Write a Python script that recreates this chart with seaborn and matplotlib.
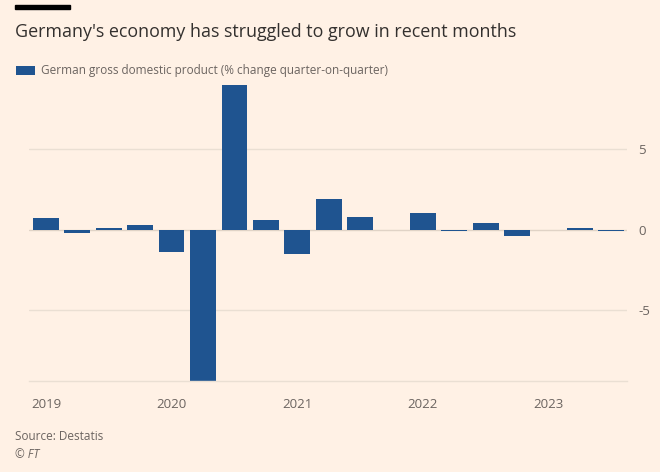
import matplotlib
matplotlib.use("Agg")
import matplotlib.pyplot as plt
from matplotlib.patches import Rectangle
import numpy as np
import pandas as pd
import seaborn as sns

# Quarterly German GDP, % change q-on-q
quarters = ["2019Q1", "2019Q2", "2019Q3", "2019Q4",
            "2020Q1", "2020Q2", "2020Q3", "2020Q4",
            "2021Q1", "2021Q2", "2021Q3", "2021Q4",
            "2022Q1", "2022Q2", "2022Q3", "2022Q4",
            "2023Q1", "2023Q2", "2023Q3"]
gdp_change = [0.7, -0.2, 0.1, 0.3,
              -1.4, -9.7, 9.0, 0.6,
              -1.5, 1.9, 0.8, 0.0,
              1.0, -0.1, 0.4, -0.4,
              0.0, 0.1, -0.1]
year_labels = ["2019", "2020", "2021", "2022", "2023"]
y_ticks = [-5, 0, 5]

bg = "#FFF1E5"
bar_color = "#1f5490"
grid_color = "#eadfd3"
text_grey = "#6b6460"

sns.set_theme(style="white")
plt.rcParams["font.family"] = ["Open Sans", "DejaVu Sans"]
plt.rcParams["axes.unicode_minus"] = False

df = pd.DataFrame({"quarter": quarters, "gdp": gdp_change})

fig = plt.figure(figsize=(6.6, 4.72), dpi=100, facecolor=bg)
W, H = 660, 472
ax = fig.add_axes([29 / W, 1 - 381 / H, (627 - 29) / W, (381 - 84) / H])
ax.set_facecolor(bg)

sns.barplot(data=df, x="quarter", y="gdp", color=bar_color, saturation=1,
            width=0.82, linewidth=0, ax=ax,
            label="German gross domestic product (% change quarter-on-quarter)")
handles, labels = ax.get_legend_handles_labels()
if ax.get_legend() is not None:
    ax.get_legend().remove()

ax.set_xlim(-0.54, len(quarters) - 0.5)
ax.set_ylim(-9.42, 9.05)

# gridlines on the right-hand y axis
ax.yaxis.tick_right()
ax.set_yticks(y_ticks)
ax.set_yticklabels([str(t) for t in y_ticks])
ax.tick_params(axis="y", length=0, pad=8, labelsize=9.5, labelcolor=text_grey)
for t in y_ticks:
    ax.axhline(t, color=grid_color if t != 0 else "#e0d3c6", lw=1, zorder=0)

# quarterly ticks, year labels at Q1
ax.set_xticks(range(len(quarters)))
ax.set_xticklabels([q[:4] if q.endswith("Q1") else "" for q in quarters])
ax.tick_params(axis="x", length=6, width=1, color=grid_color, pad=6,
               labelsize=9.5, labelcolor=text_grey)
ax.set_xlabel("")
ax.set_ylabel("")

for s in ["top", "right", "left"]:
    ax.spines[s].set_visible(False)
ax.spines["bottom"].set_color(grid_color)
ax.spines["bottom"].set_linewidth(1)

# FT header bar, title, legend
fig.add_artist(Rectangle((15 / W, 1 - 9 / H), 55 / W, 4 / H,
                         transform=fig.transFigure, color="#000000"))
fig.text(15 / W, 1 - 32 / H, "Germany's economy has struggled to grow in recent months",
         fontsize=12.9, color="#33302e", va="center", ha="left")
fig.legend(handles, labels, loc="center left", bbox_to_anchor=(5 / W, 1 - 71 / H),
           frameon=False, fontsize=8.5, labelcolor=text_grey,
           handlelength=1.6, handleheight=0.8, handletextpad=0.55)

fig.text(15 / W, 1 - 437 / H, "Source: Destatis", fontsize=8.5, color=text_grey,
         va="center", ha="left")
fig.text(15 / W, 1 - 455 / H, "© FT", fontsize=8.5, color=text_grey,
         va="center", ha="left", style="italic")

fig.savefig("out.png", dpi=100, facecolor=bg)
